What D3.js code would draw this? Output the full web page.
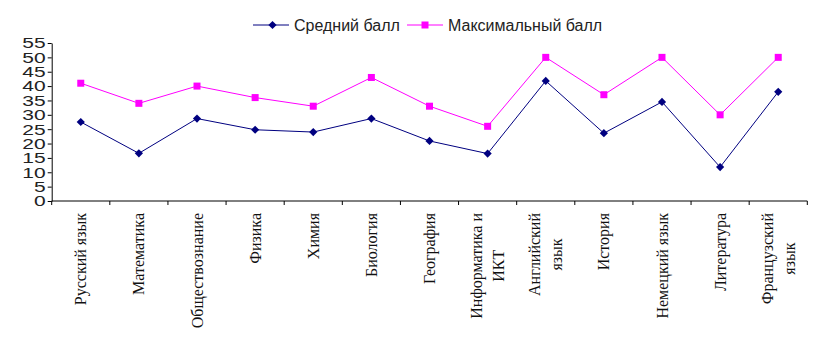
<!DOCTYPE html>
<html>
<head>
<meta charset="utf-8">
<script src="https://cdn.jsdelivr.net/npm/d3@7"></script>
<style>
  body { margin: 0; background: #fff; }
</style>
</head>
<body>
<svg width="826" height="353"></svg>
<script>
// ---- Dados
const subjects = [
    ['Русский язык'], ['Математика'], ['Обществознание'], ['Физика'], ['Химия'],
    ['Биология'], ['География'], ['Информатика и', 'ИКТ'], ['Английский', 'язык'],
    ['История'], ['Немецкий язык'], ['Литература'], ['Французский', 'язык']
];
const avgScores = [27.5, 16.6, 28.7, 24.8, 24.0, 28.7, 20.9, 16.5, 41.8, 23.6, 34.5, 11.8, 38.0];
const maxScores = [41, 34, 40, 36, 33, 43, 33, 26, 50, 37, 50, 30, 50];
const yTicks = [0, 5, 10, 15, 20, 25, 30, 35, 40, 45, 50, 55];
const seriesNames = ['Средний балл', 'Максимальный балл'];

const svg = d3.select('svg');
const margens = { left: 51.7, right: 18.7, top: 43, bottom: 152 };
const width = 826, height = 353;
const innerWidth = width - margens.left - margens.right;
const innerHeight = height - margens.top - margens.bottom;

const keys = subjects.map((s, i) => String(i));

// ---- Escalas
const mapX = d3.scaleBand().domain(keys).range([0, innerWidth]);
const mapY = d3.scaleLinear().domain([0, 55]).range([innerHeight, 0]);

const g = svg.append('g').attr('transform', `translate(${margens.left}, ${margens.top})`);

// ---- Eixo Y
const eixoY = g.append('g')
    .call(d3.axisLeft(mapY).tickValues(yTicks).tickSize(4).tickSizeOuter(0));
eixoY.select('.domain').attr('stroke', '#000');
eixoY.selectAll('line').attr('stroke', '#000');
eixoY.selectAll('text')
    .attr('x', 0)
    .attr('dy', '0.35em')
    .attr('transform', 'translate(-6,0) scale(1.5,1)')
    .style('font-family', '"Liberation Sans", Arial, sans-serif')
    .style('font-size', '14px')
    .attr('fill', '#222');

// ---- Eixo X (ticks entre categorias)
const bordas = keys.map(k => mapX(k)).concat([innerWidth]);
const eixoX = g.append('g').attr('transform', `translate(0, ${innerHeight})`);
eixoX.append('line').attr('x1', 0).attr('x2', innerWidth).attr('stroke', '#000');
eixoX.selectAll('.tk').data(bordas).enter().append('line')
    .attr('x1', d => d).attr('x2', d => d).attr('y1', 0).attr('y2', 4).attr('stroke', '#000');

// ---- Rótulos X rotacionados
const rotulos = eixoX.selectAll('.rotulo').data(subjects).enter().append('g')
    .attr('transform', (d, i) => `translate(${mapX(keys[i]) + mapX.bandwidth() / 2}, 12) rotate(-90)`);
rotulos.each(function (linhas) {
    const grp = d3.select(this);
    const txts = linhas.map((t, j) => grp.append('text')
        .attr('y', linhas.length === 1 ? 0 : (j === 0 ? -11 : 11))
        .attr('dy', '0.35em')
        .style('font-family', '"Liberation Serif", "Times New Roman", serif')
        .style('font-size', '16px')
        .attr('fill', '#111')
        .text(t));
    if (linhas.length === 1) {
        txts[0].attr('text-anchor', 'end').attr('x', 0);
    } else {
        const L = d3.max(txts, t => t.node().getComputedTextLength());
        txts.forEach(t => t.attr('text-anchor', 'middle').attr('x', -L / 2));
    }
});

// ---- Linhas
const cx = i => mapX(keys[i]) + mapX.bandwidth() / 2;
const line = d3.line().x((d, i) => cx(i)).y(d => mapY(d));

g.append('path').datum(avgScores).attr('d', line)
    .attr('fill', 'none').attr('stroke', '#000080').attr('stroke-width', 1);
g.append('path').datum(maxScores).attr('d', line)
    .attr('fill', 'none').attr('stroke', '#FF00FF').attr('stroke-width', 1);

g.selectAll('.pmax').data(maxScores).enter().append('rect')
    .attr('x', (d, i) => cx(i) - 3.5).attr('y', d => mapY(d) - 3.5)
    .attr('width', 7).attr('height', 7).attr('fill', '#FF00FF');
g.selectAll('.pavg').data(avgScores).enter().append('rect')
    .attr('x', -2.9).attr('y', -2.9).attr('width', 5.8).attr('height', 5.8)
    .attr('transform', (d, i) => `translate(${cx(i)}, ${mapY(d)}) rotate(45)`)
    .attr('fill', '#000080');

// ---- Legenda
const leg = svg.append('g').attr('transform', 'translate(0, 25)');
const legItems = [
    { x: 253, color: '#000080', tipo: 'diamond', name: seriesNames[0] },
    { x: 407, color: '#FF00FF', tipo: 'square', name: seriesNames[1] }
];
legItems.forEach(it => {
    leg.append('line').attr('x1', it.x).attr('x2', it.x + 36)
        .attr('stroke', it.color).attr('stroke-width', 1);
    if (it.tipo === 'diamond') {
        leg.append('rect').attr('x', -2.9).attr('y', -2.9).attr('width', 5.8).attr('height', 5.8)
            .attr('transform', `translate(${it.x + 19.5}, 0) rotate(45)`).attr('fill', it.color);
    } else {
        leg.append('rect').attr('x', it.x + 14.5).attr('y', -3.5).attr('width', 7).attr('height', 7).attr('fill', it.color);
    }
    leg.append('text').attr('x', it.x + 41).attr('dy', '0.35em')
        .style('font-family', '"Liberation Sans", Arial, sans-serif')
        .style('font-size', '16px')
        .attr('fill', '#222')
        .text(it.name);
});
</script>
</body>
</html>
